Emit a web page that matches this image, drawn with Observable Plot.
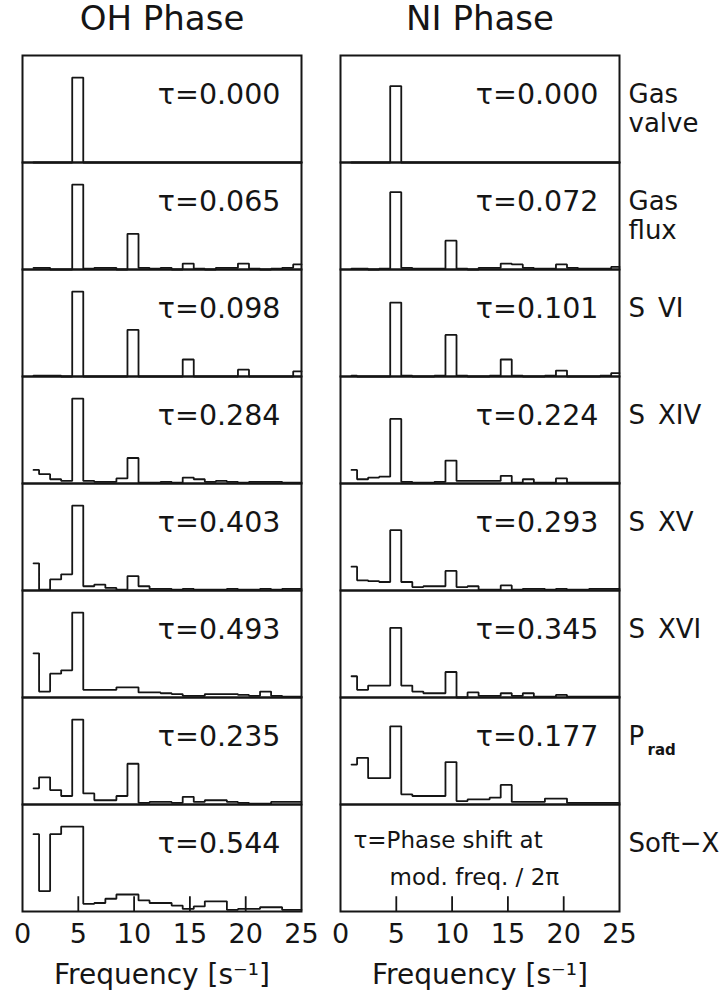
<!DOCTYPE html>
<html>
<head>
<meta charset="utf-8">
<script src="https://cdn.jsdelivr.net/npm/d3@7"></script>
<script src="https://cdn.jsdelivr.net/npm/@observablehq/plot@0.6"></script>
<style>
  body { margin: 0; background: #fff; }
  svg { display: block; }
</style>
</head>
<body>
<div id="chart"></div>
<script>
// ---- categories / labels ----
const phases = ["OH", "NI"];
const phaseTitles = ["OH Phase", "NI Phase"];
const signals = ["Gas valve", "Gas flux", "S VI", "S XIV", "S XV", "S XVI", "P rad", "Soft-X"];
const labelLine1 = ["Gas", "Gas", "S\u2002VI", "S\u2002XIV", "S\u2002XV", "S\u2002XVI", "P", "Soft\u2212X"];
const labelLine2 = ["valve", "flux", "", "", "", "", "", ""];
const ohTau = ["0.000", "0.065", "0.098", "0.284", "0.403", "0.493", "0.235", "0.544"];
const niTau = ["0.000", "0.072", "0.101", "0.224", "0.293", "0.345", "0.177", null];
const xTicks = [0, 5, 10, 15, 20, 25];
const innerTicks = [5, 10, 15, 20];
const binNumbers = [1,2,3,4,5,6,7,8,9,10,11,12,13,14,15,16,17,18,19,20,21,22,23,24,25];
const binWidth = 0.99; // s^-1 per spectral bin

// ---- spectra (relative amplitude, OH main peak = 1) ----
const ohGasValve = [0,0,0,0,1,0,0,0,0,0,0,0,0,0,0,0,0,0,0,0,0,0,0,0,0];
const ohGasFlux  = [0.02,0.02,0,0,1,0.01,0.02,0.02,0,0.42,0.02,0.01,0.02,0,0.07,0.01,0,0.02,0.02,0.07,0.01,0,0.01,0.02,0.06];
const ohSVI      = [0.01,0.01,0.01,0,1,0,0,0,0,0.55,0,0,0,0,0.20,0,0,0,0,0.08,0,0,0,0,0.06];
const ohSXIV     = [0.16,0.11,0.05,0.03,1,0.03,0.02,0.02,0.06,0.30,0.01,0.01,0.02,0.01,0.07,0.05,0.02,0.03,0.02,0.01,0.02,0.02,0.02,0.01,0.01];
const ohSXV      = [0.32,0.01,0.13,0.19,1,0.05,0.07,0.03,0.01,0.17,0.05,0.02,0.02,0.01,0.02,0.01,0.01,0.01,0.02,0.01,0.01,0.02,0.01,0.02,0.02];
const ohSXVI     = [0.52,0.07,0.28,0.32,1,0.09,0.09,0.09,0.12,0.12,0.06,0.06,0.05,0.04,0.02,0.02,0.04,0.04,0.04,0.03,0.02,0.07,0.02,0.01,0.01];
const ohPrad     = [0.19,0.32,0.17,0.10,1,0.13,0.05,0.05,0.10,0.48,0.02,0.03,0.03,0.02,0.09,0.03,0.05,0.05,0.03,0.02,0.01,0.01,0.03,0.03,0.03];
const ohSoftX    = [0.91,0.24,0.91,1,1,0.09,0.10,0.15,0.20,0.20,0.13,0.10,0.10,0.07,0.03,0.06,0.12,0.12,0.02,0.03,0.03,0.05,0.05,0.02,0.02];

const niGasValve = [0,0,0,0,0.90,0,0,0,0,0,0,0,0,0,0,0,0,0,0,0,0,0,0,0,0];
const niGasFlux  = [0.01,0.01,0,0.01,0.91,0.02,0.01,0.01,0.01,0.34,0.01,0,0.02,0.02,0.07,0.06,0.02,0.01,0.01,0.06,0.02,0.01,0.01,0.01,0.03];
const niSVI      = [0.01,0,0,0,0.87,0.01,0,0,0.01,0.49,0.01,0,0,0.01,0.20,0.01,0,0,0.01,0.07,0,0,0,0.01,0.04];
const niSXIV     = [0.16,0.05,0.07,0.08,0.76,0.02,0.01,0.01,0.02,0.27,0.03,0.03,0.03,0.03,0.09,0.01,0.05,0.01,0.01,0.06,0.01,0.01,0.01,0.01,0.01];
const niSXV      = [0.28,0.12,0.11,0.10,0.71,0.10,0.04,0.05,0.05,0.23,0.04,0.05,0.01,0.01,0.06,0.01,0.02,0.02,0.01,0.02,0.01,0.01,0.02,0.02,0.02];
const niSXVI     = [0.25,0.09,0.14,0.14,0.82,0.14,0.07,0.05,0.05,0.30,0,0.06,0.02,0.02,0.05,0.02,0.05,0.01,0.01,0.03,0.01,0.01,0.01,0.01,0.01];
const niPrad     = [0.47,0.55,0.31,0.31,0.92,0.12,0.10,0.10,0.10,0.50,0.04,0.06,0.06,0.08,0.23,0.03,0.03,0.03,0.07,0.07,0.02,0.02,0.02,0.02,0.02];

const ohSeries = [ohGasValve, ohGasFlux, ohSVI, ohSXIV, ohSXV, ohSXVI, ohPrad, ohSoftX];
const niSeries = [niGasValve, niGasFlux, niSVI, niSXIV, niSXV, niSXVI, niPrad, null];

// ---- layout constants ----
const W = 727, H = 1002;
const mTop = 54, mBottom = 90, mLeft = 22, mRight = 108;
const panelH = (H - mTop - mBottom) / signals.length;
const ink = "#151515";

// ---- build tables ----
function stepRows(values, phase, signal) {
  const rows = values.map((v, i) => ({
    f: i === 0 ? binNumbers[i] * binWidth : (binNumbers[i] - 0.5) * binWidth,
    v, phase, signal
  }));
  rows.push({f: 25, v: values[values.length - 1], phase, signal});
  return rows;
}
const lineRows = [];
signals.forEach((s, i) => {
  lineRows.push(...stepRows(ohSeries[i], "OH", s));
  if (niSeries[i]) lineRows.push(...stepRows(niSeries[i], "NI", s));
});

const tauRows = [];
signals.forEach((s, i) => {
  tauRows.push({phase: "OH", signal: s, label: "\u03C4=" + ohTau[i]});
  if (niTau[i] !== null) tauRows.push({phase: "NI", signal: s, label: "\u03C4=" + niTau[i]});
});
const titleRows = phases.map((p, i) => ({phase: p, signal: signals[0], label: phaseTitles[i]}));
const line1Rows = signals.map((s, i) => ({phase: "NI", signal: s, label: labelLine1[i]}));
const line2Rows = signals.map((s, i) => ({phase: "NI", signal: s, label: labelLine2[i]})).filter(d => d.label);
const subRows = [{phase: "NI", signal: "P rad", label: "rad"}];
const noteRows1 = [{phase: "NI", signal: "Soft-X", label: "\u03C4=Phase shift at"}];
const noteRows2 = [{phase: "NI", signal: "Soft-X", label: "mod. freq. / 2\u03C0"}];
const tickLabelRows = phases.flatMap(p => xTicks.map(t => ({phase: p, signal: "Soft-X", t})));
const tickRows = phases.flatMap(p => innerTicks.map(t => ({phase: p, signal: "Soft-X", t})));
const axisLabelRows = phases.map(p => ({phase: p, signal: "Soft-X", label: "Frequency [s\u207B\u00B9]"}));

const chart = Plot.plot({
  width: W, height: H,
  marginTop: mTop, marginBottom: mBottom, marginLeft: mLeft, marginRight: mRight,
  x: {domain: [0, 25], axis: null},
  y: {domain: [0, 1.26], axis: null},
  fx: {domain: phases, axis: null, paddingInner: 0.123, paddingOuter: 0},
  fy: {domain: signals, axis: null, paddingInner: 0, paddingOuter: 0},
  style: {fontFamily: "DejaVu Sans", background: "white", color: ink, overflow: "visible"},
  marks: [
    Plot.frame({stroke: ink, strokeWidth: 2}),
    Plot.line(lineRows, {x: "f", y: "v", fx: "phase", fy: "signal", curve: "step-after",
      stroke: ink, strokeWidth: 1.8, strokeLinejoin: "miter"}),
    Plot.tickX(tickRows, {x: "t", fx: "phase", fy: "signal", stroke: ink, strokeWidth: 1.8,
      insetTop: panelH - 15}),
    Plot.text(tauRows, {fx: "phase", fy: "signal", text: "label", frameAnchor: "top-right",
      dx: -21, dy: 39, textAnchor: "end", lineAnchor: "middle", fontSize: 28.5, fill: ink}),
    Plot.text(titleRows, {fx: "phase", fy: "signal", text: "label", frameAnchor: "top",
      dy: -36, lineAnchor: "middle", fontSize: 34, fill: ink}),
    Plot.text(line1Rows, {fx: "phase", fy: "signal", text: "label", frameAnchor: "top-right",
      dx: 9, dy: 39, textAnchor: "start", lineAnchor: "middle", fontSize: 26, fill: ink}),
    Plot.text(line2Rows, {fx: "phase", fy: "signal", text: "label", frameAnchor: "top-right",
      dx: 9, dy: 68, textAnchor: "start", lineAnchor: "middle", fontSize: 26, fill: ink}),
    Plot.text(subRows, {fx: "phase", fy: "signal", text: "label", frameAnchor: "top-right",
      dx: 28, dy: 53, textAnchor: "start", lineAnchor: "middle", fontSize: 15, fontWeight: "bold", fill: ink}),
    Plot.text(noteRows1, {fx: "phase", fy: "signal", text: "label", frameAnchor: "top-left",
      dx: 13, dy: 36, textAnchor: "start", lineAnchor: "middle", fontSize: 23, fill: ink}),
    Plot.text(noteRows2, {fx: "phase", fy: "signal", text: "label", frameAnchor: "top-left",
      dx: 49, dy: 73, textAnchor: "start", lineAnchor: "middle", fontSize: 23, fill: ink}),
    Plot.text(tickLabelRows, {x: "t", fx: "phase", fy: "signal", text: d => String(d.t),
      frameAnchor: "bottom", dy: 23, lineAnchor: "middle", fontSize: 27, fill: ink}),
    Plot.text(axisLabelRows, {fx: "phase", fy: "signal", text: "label", frameAnchor: "bottom",
      dy: 64, lineAnchor: "middle", fontSize: 28, fill: ink})
  ]
});
document.getElementById("chart").appendChild(chart);
</script>
</body>
</html>
